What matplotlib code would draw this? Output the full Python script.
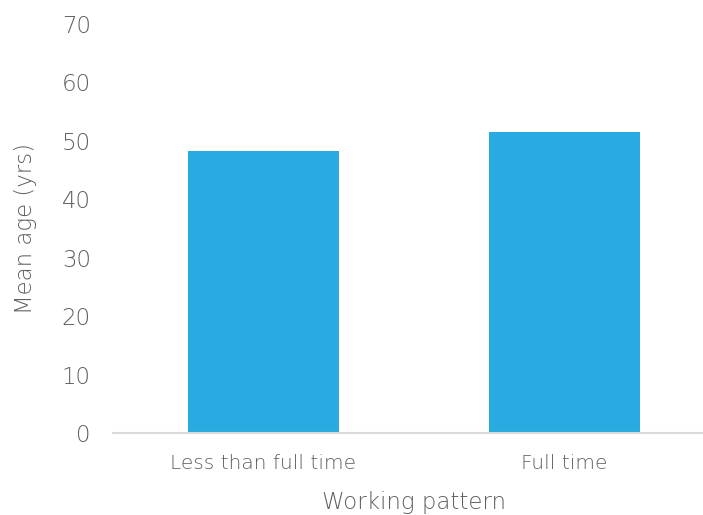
import matplotlib
matplotlib.use("Agg")
import matplotlib.pyplot as plt

categories = ["Less than full time", "Full time"]
mean_age = [48.2, 51.5]
y_ticks = [0, 10, 20, 30, 40, 50, 60, 70]

text_grey = "#5f5f5f"
bar_blue = "#29ABE2"

plt.rcParams["font.family"] = ["DejaVu Sans"]
plt.rcParams["font.weight"] = "light"
plt.rcParams["axes.labelweight"] = "light"

fig = plt.figure(figsize=(7.03, 5.15), dpi=100)
ax = fig.add_axes([113 / 703, (515 - 433) / 515, 602 / 703, (433 - 24) / 515])

x = range(len(categories))
ax.bar(x, mean_age, width=0.5, color=bar_blue, zorder=2)

ax.set_xlim(-0.5, 1.5)
ax.set_ylim(0, 70)
ax.set_yticks(y_ticks)
ax.set_xticks(list(x))
ax.set_xticklabels(categories)

for side in ("top", "right", "left"):
    ax.spines[side].set_visible(False)
ax.spines["bottom"].set_color("#d9d9d9")
ax.spines["bottom"].set_linewidth(1.5)

ax.tick_params(axis="y", length=0, pad=16, labelsize=16.5, labelcolor=text_grey)
ax.tick_params(axis="x", length=0, pad=15, labelsize=14.5, labelcolor=text_grey)

ax.set_ylabel("Mean age (yrs)", fontsize=16.5, color=text_grey, labelpad=18)
ax.set_xlabel("Working pattern", fontsize=16.5, color=text_grey, labelpad=13)

fig.savefig("out.png", dpi=100)
